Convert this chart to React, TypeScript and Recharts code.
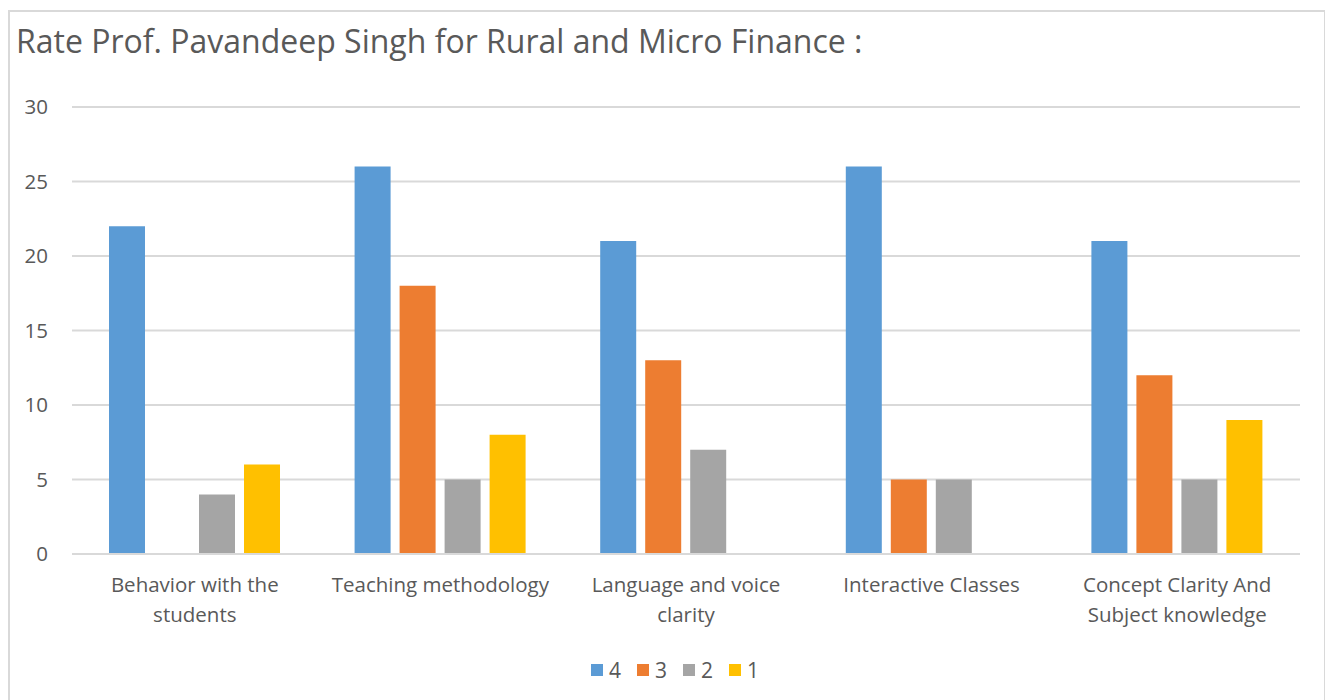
import { BarChart, Bar, XAxis, YAxis, CartesianGrid, Legend } from 'recharts';

const categories = [
  'Behavior with the\nstudents',
  'Teaching methodology',
  'Language and voice\nclarity',
  'Interactive Classes',
  'Concept Clarity And\nSubject knowledge',
];
const rating4 = [22, 26, 21, 26, 21];
const rating3 = [0, 18, 13, 5, 12];
const rating2 = [4, 5, 7, 5, 5];
const rating1 = [6, 8, 0, 0, 9];
const yTicks = [0, 5, 10, 15, 20, 25, 30];

const SERIES = [
  { key: 'r4', name: '4', color: '#5B9BD5' },
  { key: 'r3', name: '3', color: '#ED7D31' },
  { key: 'r2', name: '2', color: '#A5A5A5' },
  { key: 'r1', name: '1', color: '#FFC000' },
];

const data = categories.map((c, i) => ({
  name: c,
  r4: rating4[i],
  r3: rating3[i],
  r2: rating2[i],
  r1: rating1[i],
}));

const FONT = 'Open Sans, sans-serif';

function CategoryTick({ x, y, payload }: any) {
  const lines = String(payload.value).split('\n');
  return (
    <text x={x} y={y + 30} textAnchor="middle" fill="#595959" fontSize={20.5} fontFamily={FONT}>
      {lines.map((l, i) => (
        <tspan key={i} x={x} dy={i === 0 ? 0 : 30}>
          {l}
        </tspan>
      ))}
    </text>
  );
}

function LegendContent() {
  return (
    <div
      style={{
        display: 'flex',
        justifyContent: 'center',
        gap: 16,
        paddingLeft: 40,
        fontFamily: FONT,
        fontSize: 21,
        color: '#595959',
      }}
    >
      {SERIES.map((s) => (
        <div key={s.key} style={{ display: 'flex', alignItems: 'center', gap: 6 }}>
          <span style={{ width: 12, height: 12, background: s.color, display: 'inline-block' }} />
          <span>{s.name}</span>
        </div>
      ))}
    </div>
  );
}

export default function App() {
  return (
    <div
      style={{
        position: 'relative',
        marginTop: 2,
        width: 1318,
        height: 700,
        border: '2px solid #d9d9d9',
        background: '#fff',
        boxSizing: 'border-box',
      }}
    >
      <div
        style={{
          position: 'absolute',
          left: 6,
          top: 7,
          fontFamily: FONT,
          fontSize: 32,
          color: '#595959',
          whiteSpace: 'nowrap',
        }}
      >
        Rate Prof. Pavandeep Singh for Rural and Micro Finance :
      </div>
      <BarChart
        width={1316}
        height={690}
        data={data}
        margin={{ top: 95, right: 26, left: 0, bottom: 0 }}
        barSize={36}
        barGap={9}
      >
        <CartesianGrid vertical={false} stroke="#d9d9d9" strokeWidth={2} />
        <XAxis
          dataKey="name"
          tick={<CategoryTick />}
          tickLine={false}
          axisLine={{ stroke: '#d9d9d9', strokeWidth: 2 }}
          interval={0}
          height={120}
        />
        <YAxis
          domain={[0, 30]}
          ticks={yTicks}
          width={62}
          tickLine={false}
          axisLine={false}
          tick={{ fill: '#595959', fontSize: 20.5, fontFamily: FONT }}
          tickMargin={18}
        />
        <Legend verticalAlign="bottom" content={<LegendContent />} wrapperStyle={{ bottom: 18 }} />
        {SERIES.map((s) => (
          <Bar key={s.key} dataKey={s.key} name={s.name} fill={s.color} isAnimationActive={false} />
        ))}
      </BarChart>
    </div>
  );
}
